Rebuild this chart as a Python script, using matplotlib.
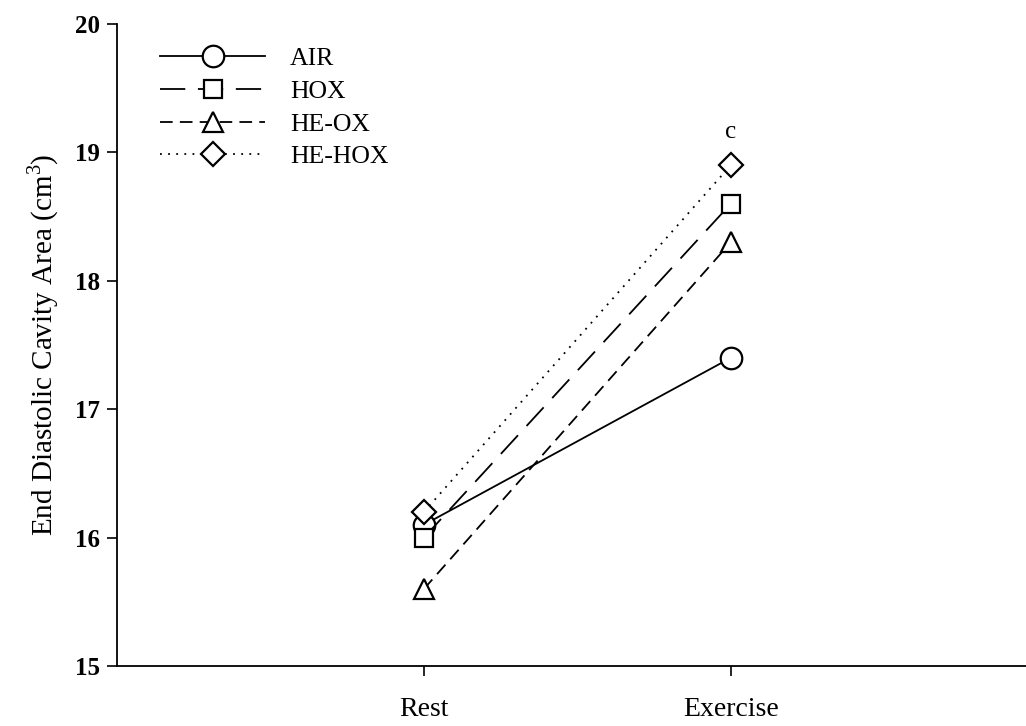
import matplotlib
matplotlib.use("Agg")
import matplotlib.pyplot as plt

# values
conditions = ["Rest", "Exercise"]
x_pos = [1, 2]
air = [16.1, 17.4]
hox = [16.0, 18.6]
he_ox = [15.6, 18.3]
he_hox = [16.2, 18.9]
y_ticks = [15, 16, 17, 18, 19, 20]

plt.rcParams["font.family"] = ["Liberation Serif", "DejaVu Serif"]
plt.rcParams["mathtext.fontset"] = "custom"
plt.rcParams["mathtext.rm"] = "Liberation Serif"

fig = plt.figure(figsize=(10.26, 7.26), dpi=100)
ax = fig.add_axes([0.114, 0.0826, 0.887, 0.8844])

common = dict(color="black", lw=1.3, mfc="white", mec="black", mew=1.6)
ax.plot(x_pos, air, linestyle="-", marker="o", ms=15.5, label="AIR", **common)
ax.plot(x_pos, hox, linestyle=(0, (14, 7)), marker="s", ms=13.5, label="HOX", **common)
ax.plot(x_pos, he_ox, linestyle=(0, (7, 4)), marker="^", ms=15, label="HE-OX", **common)
ax.plot(x_pos, he_hox, linestyle=(0, (1, 3.5)), marker="D", ms=12.5, label="HE-HOX", **common)

ax.text(2, 19.07, "c", ha="center", va="bottom", fontsize=18)

ax.set_xlim(0, 2.965)
ax.set_ylim(15, 20)
ax.set_xticks(x_pos)
ax.set_xticklabels(conditions, fontsize=20)
ax.set_yticks(y_ticks)
ax.set_yticklabels([str(t) for t in y_ticks], fontsize=18, fontweight="bold")
ax.tick_params(axis="x", direction="out", length=7, width=1.2, pad=15)
ax.tick_params(axis="y", direction="out", length=7, width=1.2, pad=5)

ax.spines["top"].set_visible(False)
ax.spines["right"].set_visible(False)
ax.spines["left"].set_linewidth(1.3)
ax.spines["bottom"].set_linewidth(1.3)

ax.set_ylabel("End Diastolic Cavity Area (cm$^3$)", fontsize=21, labelpad=10)

ax.legend(loc="upper left", bbox_to_anchor=(0.022, 1.0), frameon=False,
          fontsize=18.5, handlelength=4.1, handletextpad=0.95, numpoints=1,
          labelspacing=0.38)

fig.savefig("out.png", dpi=100)
